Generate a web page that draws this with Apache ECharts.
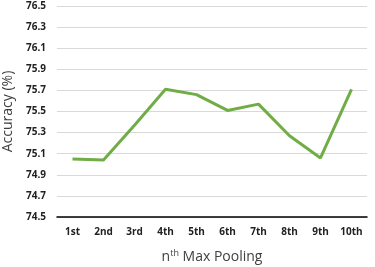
<!DOCTYPE html>
<html>
<head>
<meta charset="utf-8">
<script src="https://cdn.jsdelivr.net/npm/echarts@6/dist/echarts.min.js"></script>
<style>
  html, body { margin: 0; padding: 0; background: #fff; }
  #main { width: 375px; height: 267px; }
</style>
</head>
<body>
<div id="main"></div>
<script>
  // data
  var categories = ['1st', '2nd', '3rd', '4th', '5th', '6th', '7th', '8th', '9th', '10th'];
  var accuracy = [75.05, 75.04, 75.37, 75.71, 75.66, 75.51, 75.57, 75.27, 75.06, 75.71];

  var chart = echarts.init(document.getElementById('main'));
  chart.setOption({
    animation: false,
    grid: { left: 57, right: 8, top: 6, bottom: 50, outerBoundsMode: 'none' },
    xAxis: {
      type: 'category',
      data: categories,
      boundaryGap: true,
      axisLine: { lineStyle: { color: '#000', width: 1.5 } },
      axisTick: { show: false },
      axisLabel: {
        interval: 0,
        color: '#222',
        fontWeight: 'bold',
        fontSize: 10,
        fontFamily: 'Open Sans',
        margin: 10
      },
      name: '{n|n}{sup|th}{n| Max Pooling}',
      nameLocation: 'middle',
      nameGap: 32,
      nameTextStyle: {
        rich: {
          n: { fontSize: 14, color: '#404040', fontFamily: 'Open Sans' },
          sup: { fontSize: 9, color: '#404040', fontFamily: 'Open Sans', verticalAlign: 'top', padding: [0, 0, 7, 0] }
        }
      }
    },
    yAxis: {
      type: 'value',
      min: 74.5,
      max: 76.5,
      interval: 0.2,
      axisLine: { show: false },
      axisTick: { show: false },
      splitLine: { lineStyle: { color: '#d9d9d9', width: 1 } },
      axisLabel: {
        color: '#222',
        fontWeight: 'bold',
        fontSize: 10,
        fontFamily: 'Open Sans',
        margin: 11,
        formatter: function (v) { return v.toFixed(1); }
      },
      name: 'Accuracy (%)',
      nameLocation: 'middle',
      nameGap: 35,
      nameTextStyle: { fontSize: 14, color: '#404040', fontFamily: 'Open Sans' }
    },
    series: [{
      type: 'line',
      data: accuracy,
      symbol: 'none',
      lineStyle: { color: '#70AD47', width: 3 }
    }]
  });
</script>
</body>
</html>
